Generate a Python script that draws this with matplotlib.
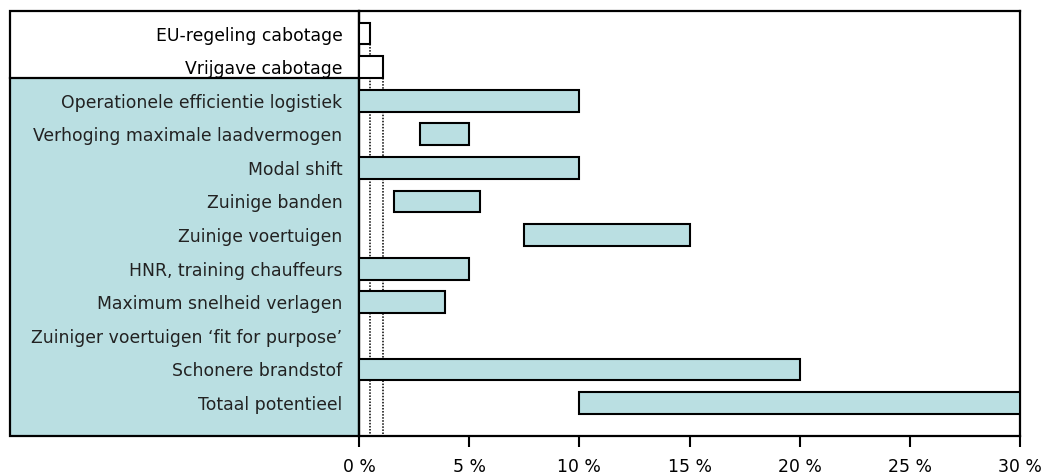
import numpy as np
import matplotlib.pyplot as plt
from matplotlib.patches import Rectangle
from matplotlib.ticker import FuncFormatter

categories = [
    'EU-regeling cabotage',
    'Vrijgave cabotage',
    'Operationele efficientie logistiek',
    'Verhoging maximale laadvermogen',
    'Modal shift',
    'Zuinige banden',
    'Zuinige voertuigen',
    'HNR, training chauffeurs',
    'Maximum snelheid verlagen',
    'Zuiniger voertuigen \u2018fit for purpose\u2019',
    'Schonere brandstof',
    'Totaal potentieel',
]
# potential reduction range per measure (%), low and high
low = [0, 0, 0, 2.75, 0, 1.6, 7.5, 0, 0, np.nan, 0, 10]
high = [0.5, 1.1, 10, 5, 10, 5.5, 15, 5, 3.9, np.nan, 20, 30]
xticks = [0, 5, 10, 15, 20, 25, 30]

teal = '#BADFE2'
W, H = 1053, 475
fig = plt.figure(figsize=(W / 100, H / 100), dpi=100)

# axes geometry in pixels
ax_l, ax_r, ax_t, ax_b = 359, 1020, 11, 436
box_l, sep_y = 10, 78
ax = fig.add_axes([ax_l / W, 1 - ax_b / H, (ax_r - ax_l) / W, (ax_b - ax_t) / H])

# label panel on the left (drawn below the axes so the labels stay on top)
fig.patches.append(Rectangle((box_l / W, 1 - ax_b / H), (ax_l - box_l) / W, (ax_b - sep_y) / H,
                             transform=fig.transFigure, facecolor=teal, edgecolor='none', zorder=-2))
fig.patches.append(Rectangle((box_l / W, 1 - ax_b / H), (ax_l - box_l) / W, (ax_b - ax_t) / H,
                             transform=fig.transFigure, facecolor='none', edgecolor='black',
                             linewidth=1.6, zorder=-1))
fig.lines.append(plt.Line2D([box_l / W, ax_l / W], [1 - sep_y / H, 1 - sep_y / H],
                            transform=fig.transFigure, color='black', linewidth=1.6, zorder=-1))

n = len(categories)
y = np.arange(n)
bar_h = 0.65
lo = np.array(low, dtype=float)
hi = np.array(high, dtype=float)
colors = ['white', 'white'] + [teal] * (n - 2)
ax.barh(y, hi - lo, left=lo, height=bar_h, color=colors, edgecolor='black', linewidth=1.5, zorder=3)

bottom_lim = n - 1 + 0.98
ax.set_ylim(bottom_lim, -0.67)
ax.set_xlim(0, 30)
ax.patch.set_alpha(0)

# dotted reference lines below the cabotage bars
ax.vlines(high[0], 0 + bar_h / 2, bottom_lim, colors='black', linestyles=(0, (1, 1)), linewidth=1.1, zorder=2)
ax.vlines(high[1], 1 + bar_h / 2, bottom_lim, colors='black', linestyles=(0, (1, 1)), linewidth=1.1, zorder=2)

ax.set_yticks(y)
ax.set_yticklabels(categories, fontsize=12.4)
for i, lab in enumerate(ax.get_yticklabels()):
    lab.set_color('black' if i < 2 else '#222222')
ax.tick_params(axis='y', length=0, pad=12)

ax.set_xticks(xticks)
ax.xaxis.set_major_formatter(FuncFormatter(lambda v, p: f'{v:.0f} %'))
ax.tick_params(axis='x', length=8, width=1.5, direction='out', labelsize=12.4, pad=8, colors='black')

for s in ax.spines.values():
    s.set_linewidth(1.6)

fig.savefig('out.png', dpi=100)
